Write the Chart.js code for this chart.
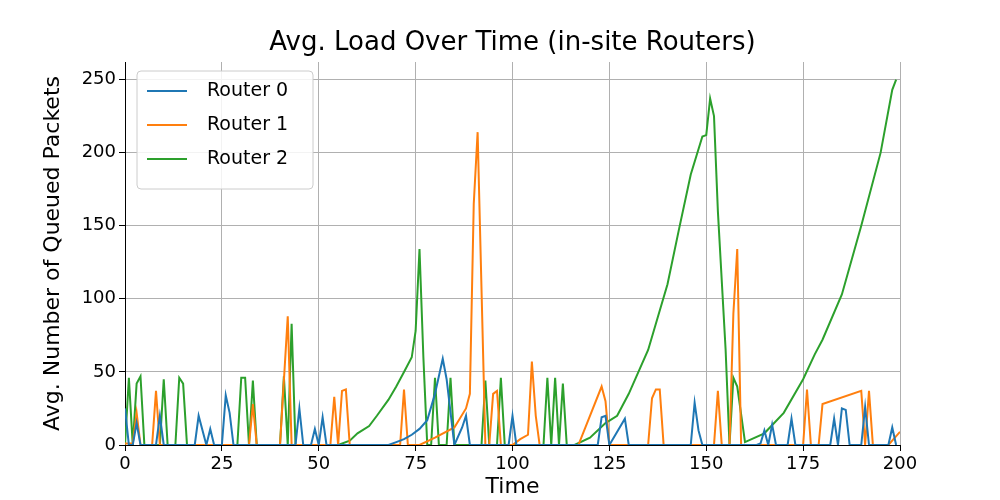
<!DOCTYPE html>
<html><head><meta charset="utf-8">
<script src="https://cdn.jsdelivr.net/npm/chart.js@4"></script>
<style>body{margin:0;background:#fff}#wrap{width:1000px;height:500px}</style>
</head><body><div id="wrap"><canvas id="c" width="1000" height="500"></canvas></div>
<script>
const r0x = [0,1,2,3,4,8,9,10,18,19,21,22,23,25,26,27,28,43,44,45,46,48,49,50,51,52,53,68,70,72,74,76,78,80,82,83,85,87,88,89,99,100,101,122,123,124,125,129,130,146,147,148,149,163,164,165,166,167,168,171,172,173,181,182,183,184,185,186,187,190,191,192,197,198,199];
const r0y = [25,0,0,15,0,0,20,0,0,20,0,11,0,0,34,22,0,0,0,25,0,0,11,0,19,0,0,0,2,4,7,11,17,35,59,45,0,12,20,0,0,20,0,0,19,20,0,18,0,0,29,10,0,0,1,10,0,14,0,0,18,0,0,0,18,0,25,24,0,0,26,0,0,12,0];
const r1x = [0,2,3,4,7,8,9,32,33,34,40,42,43,53,54,55,56,57,58,71,72,73,76,80,85,88,89,90,91,93,94,95,96,97,100,102,104,105,106,107,117,123,124,125,135,136,137,138,139,152,153,154,156,157,158,159,175,176,177,179,180,190,191,192,193,197,200];
const r1y = [1,1,22,0,0,37,0,0,28,0,0,88,0,0,33,0,37,38,0,0,38,0,0,5,12,25,35,165,214,0,0,35,37,0,0,4,7,57,20,0,0,40,30,0,0,32,38,38,0,0,37,0,0,90,134,0,0,38,0,0,28,37,0,37,0,0,9];
const r2x = [0,1,2,3,4,5,9,10,11,13,14,15,16,29,30,31,32,33,34,40,41,42,43,44,55,58,60,63,65,68,70,72,74,75,76,77,78,79,80,81,83,84,85,92,93,94,96,97,98,108,109,110,111,112,113,114,116,120,124,127,130,135,140,143,146,149,150,151,152,153,155,156,157,158,160,165,170,175,178,180,185,190,195,198,199];
const r2y = [0,46,0,42,47,0,0,45,0,0,46,42,0,0,46,46,0,44,0,0,47,0,83,0,0,3,8,13,20,31,40,50,60,78,134,60,0,0,46,0,0,46,0,0,44,0,0,46,0,0,46,0,46,0,42,0,0,5,15,20,35,65,110,148,185,211,212,237,225,160,65,0,46,40,2,8,22,45,62,72,103,150,200,243,250];
const series = [
  {label:'Router 0', xs:r0x, ys:r0y, color:'#1f77b4'},
  {label:'Router 1', xs:r1x, ys:r1y, color:'#ff7f0e'},
  {label:'Router 2', xs:r2x, ys:r2y, color:'#2ca02c'}
];
const font = 'DejaVu Sans';
const title = 'Avg. Load Over Time (in-site Routers)';

const extras = {
  id:'extras',
  afterDraw(chart){
    const ctx = chart.ctx, a = chart.chartArea;
    ctx.save();
    ctx.fillStyle='#000';
    ctx.font = '26px "'+font+'"';
    ctx.textAlign='center'; ctx.textBaseline='middle';
    ctx.fillText(title, (a.left+a.right)/2, 43);
    // legend box
    const lx=a.left+12, ly=a.top+9, w=176, h=118;
    ctx.fillStyle='rgba(255,255,255,0.85)';
    ctx.strokeStyle='#ccc'; ctx.lineWidth=1;
    ctx.beginPath(); ctx.roundRect(lx,ly,w,h,4); ctx.fill(); ctx.stroke();
    ctx.font='19px "'+font+'"'; ctx.textAlign='left';
    series.forEach((s,i)=>{
      const yy=ly+20+i*34;
      ctx.strokeStyle=s.color; ctx.lineWidth=2;
      ctx.beginPath(); ctx.moveTo(lx+10,yy); ctx.lineTo(lx+50,yy); ctx.stroke();
      ctx.fillStyle='#000'; ctx.fillText(s.label, lx+70, yy);
    });
    ctx.restore();
  }
};

new Chart('c', {
  type:'line',
  data:{datasets: series.map(s=>({
    label:s.label,
    data:s.xs.map((x,i)=>({x:x,y:s.ys[i]})),
    borderColor:s.color, borderWidth:2, pointRadius:0, tension:0, fill:false
  }))},
  options:{
    responsive:false, animation:false,
    layout:{padding:{top:62,right:100,left:40,bottom:0}},
    plugins:{legend:{display:false}, tooltip:{enabled:false}},
    scales:{
      x:{type:'linear', min:0, max:200,
        ticks:{stepSize:25, color:'#000', font:{family:font,size:18}},
        grid:{color:'#b0b0b0', tickColor:'#000', tickLength:6},
        border:{color:'#000'},
        title:{display:true,text:'Time',color:'#000',font:{family:font,size:22},padding:0},
        afterFit(s){s.height=55;}
      },
      y:{min:0, max:262,
        afterBuildTicks(s){s.ticks=[0,50,100,150,200,250].map(v=>({value:v}));},
        ticks:{color:'#000', font:{family:font,size:18}},
        grid:{color:'#b0b0b0', tickColor:'#000', tickLength:6},
        border:{color:'#000'},
        title:{display:true,text:'Avg. Number of Queued Packets',color:'#000',font:{family:font,size:22},padding:0},
        afterFit(s){s.width=85;}
      }
    }
  },
  plugins:[extras]
});
</script></body></html>
